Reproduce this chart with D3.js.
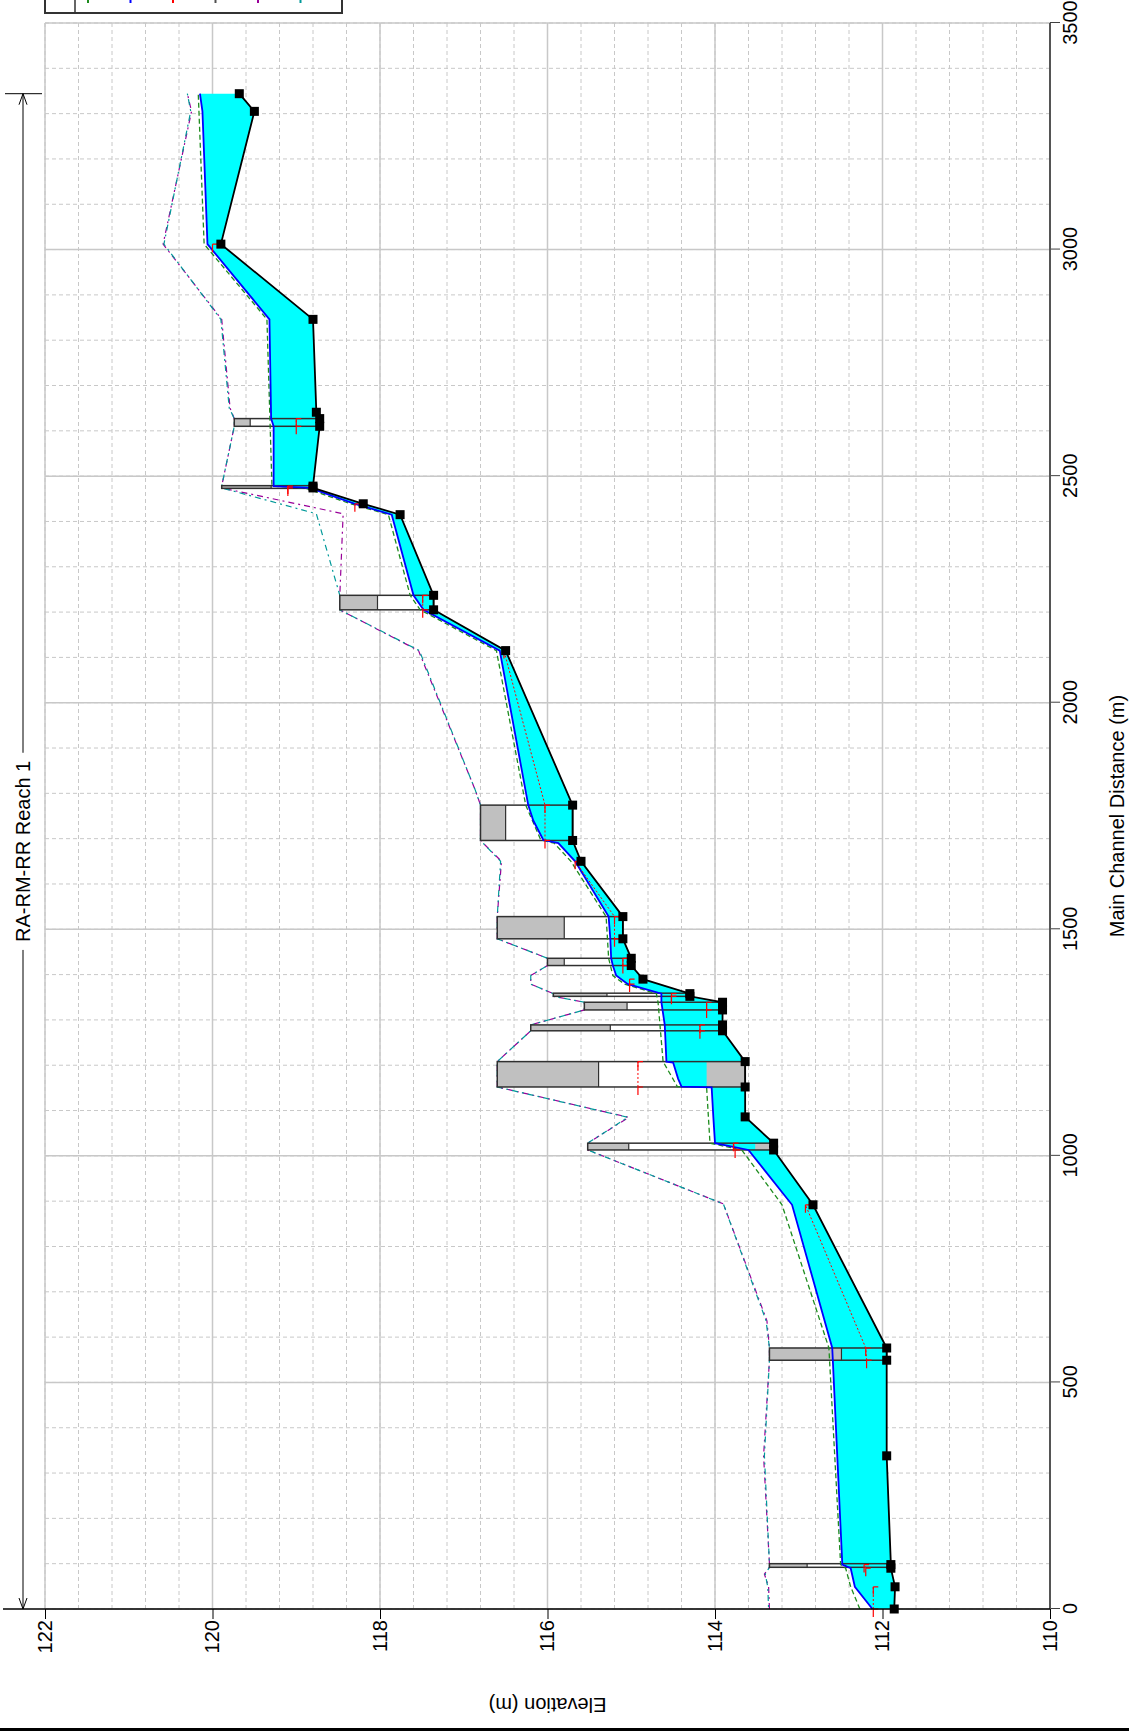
<!DOCTYPE html>
<html>
<head>
<meta charset="utf-8">
<script src="https://cdn.jsdelivr.net/npm/d3@7"></script>
<style>
body { margin: 0; background: #fff; }
svg { display: block; font-family: "Liberation Sans", Arial, sans-serif; }
</style>
</head>
<body>
<svg id="chart" width="1129" height="1731"></svg>
<script>
var title = 'RA-RM-RR Reach 1'
var xLabel = 'Main Channel Distance (m)'
var yLabel = 'Elevation (m)'
// legend order: EG, WS, Crit, Ground, LOB, ROB (only the line ends show on the page)
var legendColors = ['#1e8c1e','#0000ff','#ff0000','#505050','#990099','#009999']

var distTicks = [0,500,1000,1500,2000,2500,3000,3500]
var elevTicks = [110,112,114,116,118,120,122]

// [main channel distance, elevation]
var groundPts = [[0,111.86],[49,111.85],[90,111.9],[98,111.9],[338,111.95],[549,111.95],[576,111.95],
  [892,112.83],[1013,113.3],[1028,113.3],[1086,113.64],[1152,113.64],[1208,113.64],
  [1276,113.91],[1289,113.91],[1322,113.91],[1339,113.91],[1352,114.3],[1358,114.3],
  [1390,114.86],[1420,115.0],[1436,115.0],[1479,115.1],[1528,115.1],[1650,115.6],
  [1696,115.7],[1774,115.7],[2115,116.5],[2205,117.36],[2237,117.36],[2415,117.76],
  [2439,118.2],[2474,118.8],[2478,118.8],[2610,118.72],[2627,118.72],[2641,118.76],
  [2846,118.8],[3012,119.9],[3305,119.5],[3344,119.68]]

var wsPts = [[0,112.12],[49,112.33],[90,112.38],[98,112.48],[576,112.6],[892,113.08],
  [1013,113.6],[1028,114.0],[1086,114.02],[1151,114.04],[1153,114.4],[1170,114.44],[1206,114.5],[1208,114.58],
  [1289,114.6],[1339,114.64],[1358,114.64],[1379,115.04],[1398,115.18],[1420,115.22],[1436,115.24],
  [1479,115.25],[1528,115.27],[1650,115.67],[1690,115.87],[1697,116.05],[1740,116.17],[1774,116.23],
  [2115,116.57],[2205,117.48],[2237,117.6],[2415,117.86],[2439,118.3],[2474,118.84],[2478,119.27],
  [2610,119.27],[2627,119.3],[2846,119.32],[3012,120.06],[3305,120.12],[3344,120.15]]

var egPts = [[0,112.27],[49,112.38],[90,112.44],[98,112.5],[576,112.64],[892,113.2],
  [1013,113.68],[1028,114.06],[1151,114.1],[1153,114.45],[1208,114.62],
  [1339,114.68],[1358,114.7],[1379,115.08],[1398,115.22],[1436,115.27],
  [1528,115.3],[1650,115.72],[1690,115.92],[1697,116.08],[1774,116.26],
  [2115,116.61],[2205,117.52],[2237,117.64],[2415,117.9],[2439,118.35],[2474,118.9],[2478,119.29],
  [2846,119.35],[3012,120.1],[3344,120.17]]

// null = crit not drawn
var critPts = [[0,112.11],[49,112.11],null,[90,112.2],[98,112.22],null,
  [549,112.19],[576,112.2],[892,112.92],null,[1013,113.76],[1028,113.78],null,
  [1152,114.92],[1208,114.92],null,[1276,114.18],[1289,114.18],null,
  [1322,114.1],[1339,114.1],null,[1352,114.52],[1358,114.52],null,
  [1379,115.02],[1390,115.02],null,[1420,115.1],[1436,115.1],null,
  [1479,115.2],[1528,115.2],[1650,115.67],null,[1696,116.03],[1774,116.03],[2115,116.52],null,
  [2205,117.49],[2237,117.49],null,[2439,118.3],null,[2474,119.1],[2478,119.1],null,
  [2610,119.0],[2627,119.0],null,[3012,120.0]]

var lobPts = [[0,113.35],[49,113.36],[77,113.41],[92,113.35],[100,113.35],[338,113.42],[549,113.35],[576,113.35],[636,113.38],
  [894,113.9],[1013,115.52],[1028,115.52],[1085,115.03],[1152,116.6],[1208,116.6],[1276,116.2],[1289,116.2],
  [1322,115.56],[1339,115.56],[1352,115.93],[1358,115.93],[1379,116.2],[1398,116.2],[1420,116.0],[1436,116.0],
  [1479,116.6],[1528,116.6],[1650,116.55],[1696,116.8],[1774,116.8],[1806,116.86],[2115,117.54],
  [2205,118.48],[2237,118.48],[2417,118.44],[2474,119.89],[2478,119.89],[2610,119.74],[2627,119.74],[2650,119.79],
  [2846,119.89],[3012,120.59],[3305,120.25],[3344,120.3]]

var robPts = [[0,113.36],[49,113.37],[77,113.4],[92,113.35],[100,113.35],[338,113.41],[549,113.35],[576,113.35],[636,113.39],
  [894,113.9],[1013,115.52],[1028,115.52],[1085,115.04],[1152,116.6],[1208,116.6],[1276,116.2],[1289,116.2],
  [1322,115.56],[1339,115.56],[1352,115.93],[1358,115.93],[1379,116.2],[1398,116.2],[1420,116.0],[1436,116.0],
  [1479,116.6],[1528,116.6],[1650,116.56],[1696,116.8],[1774,116.8],[1806,116.86],[2115,117.53],
  [2205,118.48],[2237,118.48],[2417,118.76],[2474,119.89],[2478,119.89],[2610,119.74],[2627,119.74],[2650,119.8],
  [2846,119.9],[3012,120.58],[3305,120.26],[3344,120.3]]

// bridges / culverts: faces, top of road, low chord, culvert invert (null = none), bottom
var strFrom = [92,549,1013,1152,1276,1322,1352,1420,1479,1696,2205,2473,2610]
var strTo = [100,576,1028,1208,1289,1339,1359,1436,1528,1774,2237,2479,2627]
var strTop = [113.35,113.35,115.52,116.6,116.2,115.56,115.93,116.0,116.6,116.8,118.48,119.89,119.74]
var strLow = [112.9,112.49,115.03,115.39,115.25,115.05,115.29,115.8,115.8,116.5,118.03,119.3,119.55]
var strInvert = [null,null,113.52,114.1,null,null,null,null,null,null,null,null,null]
var strBottom = [111.9,111.95,113.3,113.64,113.91,113.91,114.3,115.0,115.1,115.7,117.36,118.8,118.72]

var reachEnd = 3344

// the chart is drawn landscape and turned onto the portrait page
var W = 1731
var svg = d3.select('#chart')
var g = svg.append('g').attr('transform', 'translate(0,' + W + ') rotate(-90)')

var x = d3.scaleLinear().domain([0, 3500]).range([122, 1708])
var y = d3.scaleLinear().domain([110, 122]).range([1050, 45])

var minorX = d3.range(0, 3501, 100)
var minorY = d3.range(0, 31).map(function(i) { return 110 + i * 0.4 })

// grid
var grid = g.append('g')
grid.selectAll('.mx').data(minorX).enter().append('line')
  .attr('x1', x).attr('x2', x).attr('y1', y(110)).attr('y2', y(122))
  .attr('stroke', '#c8c8c8').attr('stroke-dasharray', '4,3')
grid.selectAll('.my').data(minorY).enter().append('line')
  .attr('x1', x(0)).attr('x2', x(3500)).attr('y1', y).attr('y2', y)
  .attr('stroke', '#c8c8c8').attr('stroke-dasharray', '4,3')
grid.selectAll('.Mx').data(distTicks).enter().append('line')
  .attr('x1', x).attr('x2', x).attr('y1', y(110)).attr('y2', y(122))
  .attr('stroke', '#c8c8c8').attr('stroke-width', 1.5)
grid.selectAll('.My').data(elevTicks).enter().append('line')
  .attr('x1', x(0)).attr('x2', x(3500)).attr('y1', y).attr('y2', y)
  .attr('stroke', '#c8c8c8').attr('stroke-width', 1.5)

var line = d3.line()
  .defined(function(d) { return d })
  .x(function(d) { return x(d[0]) })
  .y(function(d) { return y(d[1]) })

// bank lines, dashes interleaved so both colours show where they overlap
g.append('path').attr('d', line(lobPts)).attr('fill', 'none')
  .attr('stroke', '#990099').attr('stroke-width', 1.2).attr('stroke-dasharray', '6,4,2,4')
g.append('path').attr('d', line(robPts)).attr('fill', 'none')
  .attr('stroke', '#009999').attr('stroke-width', 1.2).attr('stroke-dasharray', '6,4,2,4').attr('stroke-dashoffset', 8)

// structure openings (white) under the water
var strIdx = d3.range(strFrom.length)
g.selectAll('.open').data(strIdx).enter().append('rect')
  .attr('x', function(i) { return x(strFrom[i]) })
  .attr('width', function(i) { return x(strTo[i]) - x(strFrom[i]) })
  .attr('y', function(i) { return y(strTop[i]) })
  .attr('height', function(i) { return y(strBottom[i]) - y(strTop[i]) })
  .attr('fill', '#fff')

// water between ground and water surface
var water = wsPts.concat(groundPts.slice().reverse())
g.append('path').attr('d', line(water) + 'Z').attr('fill', '#00ffff')

// decks and culvert fill
g.selectAll('.deck').data(strIdx).enter().append('rect')
  .attr('x', function(i) { return x(strFrom[i]) })
  .attr('width', function(i) { return x(strTo[i]) - x(strFrom[i]) })
  .attr('y', function(i) { return y(strTop[i]) })
  .attr('height', function(i) { return y(strLow[i]) - y(strTop[i]) })
  .attr('fill', '#c0c0c0')
g.selectAll('.fill').data(strIdx.filter(function(i) { return strInvert[i] != null })).enter().append('rect')
  .attr('x', function(i) { return x(strFrom[i]) })
  .attr('width', function(i) { return x(strTo[i]) - x(strFrom[i]) })
  .attr('y', function(i) { return y(strInvert[i]) })
  .attr('height', function(i) { return y(strBottom[i]) - y(strInvert[i]) })
  .attr('fill', '#c0c0c0')
g.selectAll('.outline').data(strIdx).enter().append('rect')
  .attr('x', function(i) { return x(strFrom[i]) })
  .attr('width', function(i) { return x(strTo[i]) - x(strFrom[i]) })
  .attr('y', function(i) { return y(strTop[i]) })
  .attr('height', function(i) { return y(strBottom[i]) - y(strTop[i]) })
  .attr('fill', 'none').attr('stroke', '#303030').attr('stroke-width', 1.5)
g.selectAll('.lowc').data(strIdx).enter().append('line')
  .attr('x1', function(i) { return x(strFrom[i]) }).attr('x2', function(i) { return x(strTo[i]) })
  .attr('y1', function(i) { return y(strLow[i]) }).attr('y2', function(i) { return y(strLow[i]) })
  .attr('stroke', '#303030').attr('stroke-width', 1.2)

// energy grade, water surface, critical
g.append('path').attr('d', line(egPts)).attr('fill', 'none')
  .attr('stroke', '#1e8c1e').attr('stroke-width', 1.3).attr('stroke-dasharray', '5,3')
g.append('path').attr('d', line(wsPts)).attr('fill', 'none')
  .attr('stroke', '#0000ff').attr('stroke-width', 1.8)
g.append('path').attr('d', line(critPts)).attr('fill', 'none')
  .attr('stroke', '#ff0000').attr('stroke-width', 1).attr('stroke-dasharray', '2,2')
g.selectAll('.crit').data(critPts.filter(function(d) { return d })).enter().append('path')
  .attr('d', function(d) {
    var px = x(d[0]), py = y(d[1])
    return 'M' + px + ',' + py + 'L' + (px - 8) + ',' + py + 'M' + px + ',' + py + 'L' + px + ',' + (py + 5)
  })
  .attr('stroke', '#ff0000').attr('stroke-width', 1.2).attr('fill', 'none')

// ground
g.append('path').attr('d', line(groundPts)).attr('fill', 'none')
  .attr('stroke', '#000').attr('stroke-width', 1.8)
g.selectAll('.xs').data(groundPts).enter().append('rect')
  .attr('x', function(d) { return x(d[0]) - 4.5 })
  .attr('y', function(d) { return y(d[1]) - 4.5 })
  .attr('width', 9).attr('height', 9).attr('fill', '#000')

// axes
var xAxis = g.append('g').attr('transform', 'translate(0,' + y(110) + ')')
xAxis.call(d3.axisBottom(x).tickValues(minorX).tickSize(6).tickFormat(''))
xAxis.call(d3.axisBottom(x).tickValues(distTicks).tickSize(10).tickPadding(3).tickFormat(d3.format('d')))
xAxis.selectAll('.domain').remove()
xAxis.selectAll('line').attr('stroke', '#404040')
xAxis.selectAll('text').attr('font-size', 20).attr('fill', '#000').attr('font-family', '"Liberation Sans", Arial, sans-serif')
g.append('line').attr('x1', x(0)).attr('x2', x(3500)).attr('y1', y(110)).attr('y2', y(110))
  .attr('stroke', '#555').attr('stroke-width', 2)

var yAxis = g.append('g').attr('transform', 'translate(' + x(0) + ',0)')
yAxis.call(d3.axisLeft(y).tickValues(minorY).tickSize(6).tickFormat(''))
yAxis.call(d3.axisLeft(y).tickValues(elevTicks).tickSize(10).tickPadding(1).tickFormat(d3.format('d')))
yAxis.selectAll('.domain').remove()
yAxis.selectAll('line').attr('stroke', '#000')
yAxis.selectAll('text').attr('font-size', 20).attr('fill', '#000').attr('font-family', '"Liberation Sans", Arial, sans-serif')
g.append('line').attr('x1', x(0)).attr('x2', x(0)).attr('y1', 3).attr('y2', y(110))
  .attr('stroke', '#000').attr('stroke-width', 1.5)

g.append('text').attr('x', (x(0) + x(3500)) / 2).attr('y', 1124)
  .attr('text-anchor', 'middle').attr('font-size', 20).text(xLabel)
g.append('text').attr('transform', 'translate(33,' + (y(110) + y(122)) / 2 + ') rotate(-90)')
  .attr('text-anchor', 'middle').attr('font-size', 20).text(yLabel)

// reach extent with title
var ry = 23, tMid = (x(0) + x(reachEnd)) / 2
var tt = g.append('text').attr('x', tMid).attr('y', ry).attr('dy', '0.35em')
  .attr('text-anchor', 'middle').attr('font-size', 20).text(title)
var tw = tt.node().getComputedTextLength()
g.append('line').attr('x1', x(0)).attr('x2', tMid - tw / 2 - 8).attr('y1', ry).attr('y2', ry).attr('stroke', '#000')
g.append('line').attr('x1', tMid + tw / 2 + 8).attr('x2', x(reachEnd)).attr('y1', ry).attr('y2', ry).attr('stroke', '#000')
g.append('path').attr('d', 'M' + (x(0) + 11) + ',' + (ry - 4) + 'L' + x(0) + ',' + ry + 'L' + (x(0) + 11) + ',' + (ry + 4))
  .attr('fill', 'none').attr('stroke', '#000')
g.append('path').attr('d', 'M' + (x(reachEnd) - 11) + ',' + (ry - 4) + 'L' + x(reachEnd) + ',' + ry + 'L' + (x(reachEnd) - 11) + ',' + (ry + 4))
  .attr('fill', 'none').attr('stroke', '#000')
g.append('line').attr('x1', x(reachEnd)).attr('x2', x(reachEnd)).attr('y1', 5).attr('y2', 42).attr('stroke', '#000')

// legend box, cut by the page edge
var lg = g.append('g')
lg.append('rect').attr('x', 1718).attr('y', 45).attr('width', 300).attr('height', 297)
  .attr('fill', '#fff').attr('stroke', '#333').attr('stroke-width', 2)
lg.append('line').attr('x1', 1718).attr('x2', 2018).attr('y1', 75).attr('y2', 75).attr('stroke', '#333').attr('stroke-width', 1.5)
legendColors.forEach(function(c, i) {
  var ly = 88 + i * 42.5
  lg.append('line').attr('x1', 1728).attr('x2', 1770).attr('y1', ly).attr('y2', ly)
    .attr('stroke', c).attr('stroke-width', 2)
})

// page frame edge
g.append('rect').attr('x', 0).attr('y', 0).attr('width', 3).attr('height', 1129).attr('fill', '#000')
</script>
</body>
</html>
